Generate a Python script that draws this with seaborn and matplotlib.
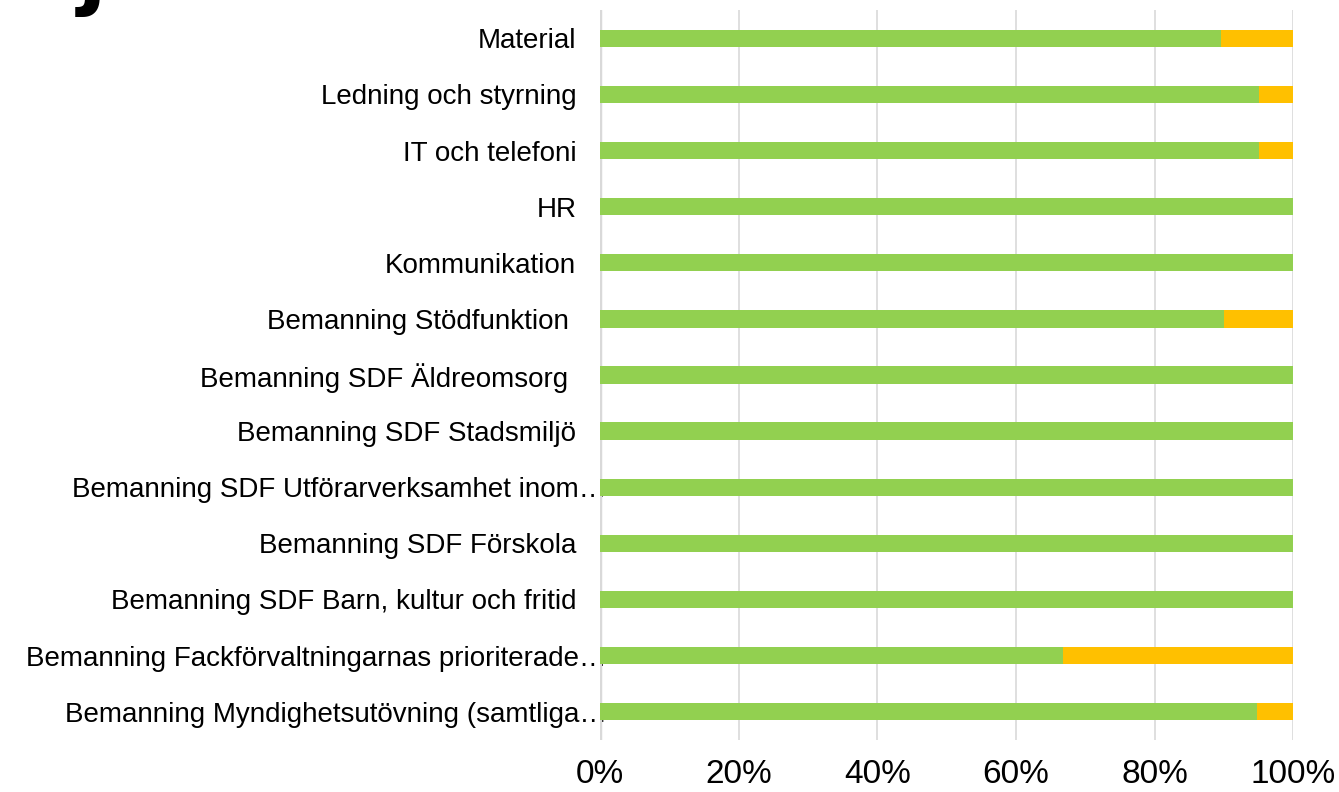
import numpy as np
import pandas as pd
import seaborn as sns
import matplotlib
matplotlib.use("Agg")
from matplotlib import pyplot as plt
from matplotlib.ticker import FuncFormatter
from matplotlib.transforms import ScaledTranslation

categories = [
    "Material",
    "Ledning och styrning",
    "IT och telefoni",
    "HR",
    "Kommunikation",
    "Bemanning Stödfunktion ",
    "Bemanning SDF Äldreomsorg ",
    "Bemanning SDF Stadsmiljö",
    "Bemanning SDF Utförarverksamhet inom…",
    "Bemanning SDF Förskola",
    "Bemanning SDF Barn, kultur och fritid",
    "Bemanning Fackförvaltningarnas prioriterade…",
    "Bemanning Myndighetsutövning (samtliga…",
]
green_share = [89.5, 95.0, 95.0, 100, 100, 90.0, 100, 100, 100, 100, 100, 66.7, 94.7]
orange_share = [10.5, 5.0, 5.0, 0, 0, 10.0, 0, 0, 0, 0, 0, 33.3, 5.3]

df = pd.DataFrame({
    "category": categories,
    "green": green_share,
    "total": np.array(green_share) + np.array(orange_share),
})

sns.set_style("white")
plt.rcParams["font.family"] = ["Liberation Sans", "DejaVu Sans"]

fig, ax = plt.subplots(figsize=(13.39, 7.92), dpi=100)
fig.subplots_adjust(left=0.448, right=0.966, top=0.987, bottom=0.066)

# orange underneath (full length), green on top
sns.barplot(data=df, x="total", y="category", orient="h", color="#FFC000",
            width=0.31, saturation=1, edgecolor="none", ax=ax, zorder=3)
sns.barplot(data=df, x="green", y="category", orient="h", color="#92D050",
            width=0.31, saturation=1, edgecolor="none", ax=ax, zorder=4)

ax.set_xlim(0, 100)
ax.set_ylim(len(categories) - 0.5, -0.5)
ax.set_xticks([0, 20, 40, 60, 80, 100])
ax.xaxis.set_major_formatter(FuncFormatter(lambda v, p: f"{v:.0f}%"))
ax.grid(axis="x", color="#D9D9D9", linewidth=1.2, zorder=0)
ax.axvline(0, color="#D9D9D9", linewidth=2.5, zorder=1)
for s in ax.spines.values():
    s.set_visible(False)
ax.tick_params(axis="x", labelsize=24, pad=14, length=0, colors="black")
ax.tick_params(axis="y", labelsize=20, pad=17, length=0, colors="black")
ax.set_xlabel("")
ax.set_ylabel("")

# truncated labels run up to the axis like in the original
for lbl in ax.get_yticklabels():
    if lbl.get_text().endswith("…"):
        lbl.set_transform(lbl.get_transform() + ScaledTranslation(22 / 72, 0, fig.dpi_scale_trans))

# cut-off heading glyph in the top-left corner
fig.text(0.058, 0.979, "j", fontsize=60, fontweight="bold", color="black",
         ha="left", va="bottom", family="DejaVu Sans")

fig.savefig("out.png", dpi=100)
